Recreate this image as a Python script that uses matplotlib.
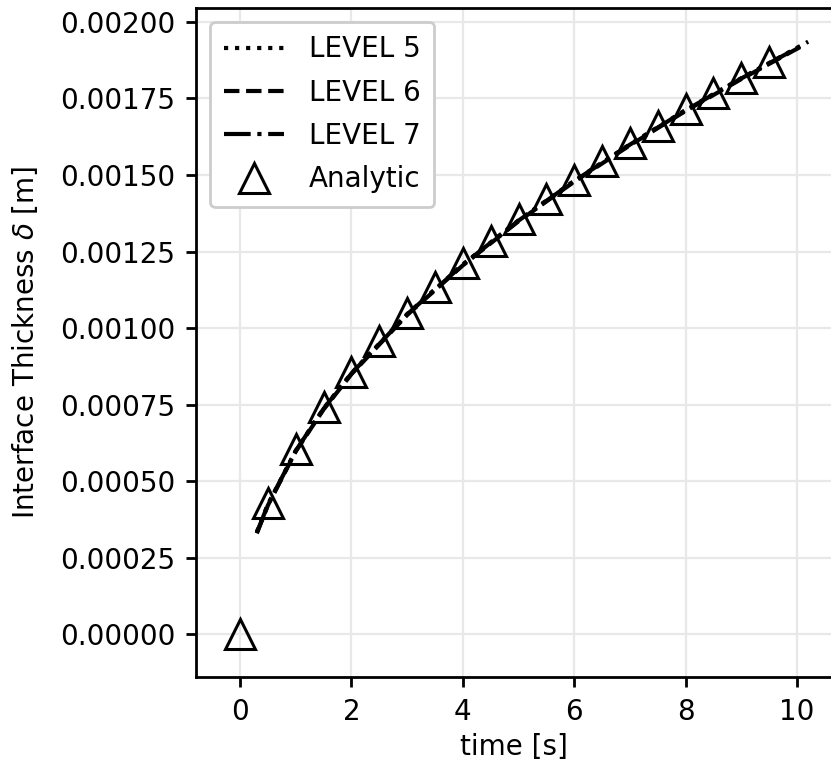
import matplotlib
matplotlib.use("Agg")
import matplotlib.pyplot as plt

# analytic solution points
t_ana = [0.0, 0.5, 1.0, 1.5, 2.0, 2.5, 3.0, 3.5, 4.0, 4.5, 5.0,
         5.5, 6.0, 6.5, 7.0, 7.5, 8.0, 8.5, 9.0, 9.5]
d_ana = [0.0, 0.000428, 0.000606, 0.000742, 0.000857, 0.000958, 0.00105,
         0.001134, 0.001212, 0.001286, 0.001355, 0.001421, 0.001484,
         0.001545, 0.001603, 0.00166, 0.001714, 0.001767, 0.001818, 0.001868]

# simulated interface thickness per refinement level
t_l5 = [0.3, 0.5, 1.0, 1.5, 2.0, 3.0, 4.0, 5.0, 6.0, 7.0, 8.0, 9.0, 10.0, 10.2]
d_l5 = [0.000335, 0.000425, 0.000600, 0.000738, 0.000853, 0.001046, 0.001208,
        0.001352, 0.001481, 0.001600, 0.001712, 0.001816, 0.001915, 0.001935]
t_l6 = [0.3, 0.5, 1.0, 1.5, 2.0, 3.0, 4.0, 5.0, 6.0, 7.0, 8.0, 9.0, 10.0, 10.15]
d_l6 = [0.000330, 0.000422, 0.000598, 0.000735, 0.000850, 0.001043, 0.001205,
        0.001349, 0.001478, 0.001597, 0.001709, 0.001813, 0.001912, 0.001927]
t_l7 = [0.3, 0.5, 1.0, 1.5, 2.0, 3.0, 4.0, 5.0, 6.0, 7.0, 8.0, 9.0, 10.0, 10.1]
d_l7 = [0.000332, 0.000424, 0.000600, 0.000737, 0.000852, 0.001045, 0.001207,
        0.001351, 0.001480, 0.001599, 0.001711, 0.001815, 0.001914, 0.001923]

FS = 20
plt.rcParams.update({"font.family": "DejaVu Sans", "font.size": FS})

fig = plt.figure(figsize=(8.31, 7.68), dpi=100)
ax = fig.add_axes([0.236, 0.118, 0.764, 0.872])

ax.plot(t_l5, d_l5, ":", color="black", lw=3, label="LEVEL 5")
ax.plot(t_l6, d_l6, "--", color="black", lw=3, label="LEVEL 6")
ax.plot(t_l7, d_l7, "-.", color="black", lw=3, label="LEVEL 7")
ax.plot(t_ana, d_ana, "^", ms=22, mfc="none", mec="black", mew=2.2,
        linestyle="none", label="Analytic")

ax.set_xlim(-0.79, 10.61)
ax.set_ylim(-0.00014, 0.002046)
ax.set_xticks([0, 2, 4, 6, 8, 10])
ax.set_yticks([0.0, 0.00025, 0.0005, 0.00075, 0.001, 0.00125, 0.0015, 0.00175, 0.002])
ax.set_yticklabels(["0.00000", "0.00025", "0.00050", "0.00075", "0.00100",
                    "0.00125", "0.00150", "0.00175", "0.00200"])
ax.grid(True, color="#e8e8e8", lw=1.6)
ax.set_axisbelow(True)
ax.spines["right"].set_visible(False)
for s in ax.spines.values():
    s.set_linewidth(2)
ax.tick_params(width=2, length=7, pad=8, labelsize=FS)
ax.set_xlabel("time [s]", fontsize=FS, labelpad=5)
ax.set_ylabel(r"Interface Thickness $\delta$ [m]", fontsize=FS, labelpad=14)

leg = ax.legend(loc="upper left", fontsize=FS, handlelength=2.15, framealpha=1,
                labelspacing=0.55, handletextpad=0.9, borderpad=0.5)
leg.get_frame().set_edgecolor("#cccccc")
leg.get_frame().set_linewidth(2)

fig.savefig("out.png", dpi=100)
